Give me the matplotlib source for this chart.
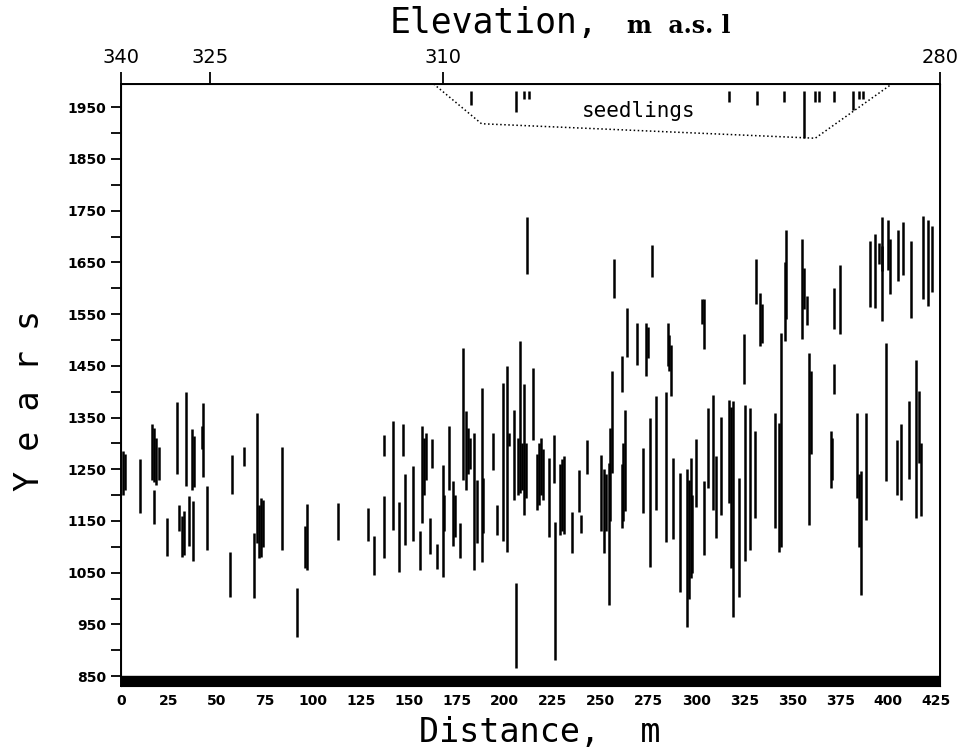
import matplotlib
matplotlib.use("Agg")
import matplotlib.pyplot as plt

# tree-age ranges along the transect: distance (m), oldest year, youngest year
dist = [1, 2, 10, 16, 17, 18, 17.2, 20, 24, 29, 30, 32, 33, 34, 35.3, 37, 38, 37.5,
        43, 42, 45, 57, 58, 64, 69.5, 71,
        72, 73, 74, 84, 92, 96, 97, 113, 129, 132, 137, 137.3, 142, 145, 147, 148,
        152, 156, 157, 158, 159, 161, 162, 165, 168, 168.5, 171, 173, 174, 177,
        178.5, 180, 181, 182, 184, 185.5, 188, 189, 194, 196, 199, 201.5, 202.5,
        205, 206, 207, 208, 209, 210, 211, 211.5, 215, 217, 218, 219, 220, 223,
        226, 226.5, 229, 230, 231, 235, 239, 240, 243, 250.5, 252, 253, 254.6, 255,
        256, 257, 261, 262, 263, 261.5, 264, 269, 272, 274, 275, 276, 277, 279,
        284, 285, 286, 287, 288, 291.5, 295, 296, 297, 298,
        300, 303, 304, 304, 306, 308.5, 310, 313, 317, 318, 319, 322, 325, 325.5,
        328, 330.5, 331, 333, 334, 341, 343, 344, 346, 347, 355, 356, 357.5, 359,
        360, 370, 371, 372, 372, 375,
        384, 385, 386, 388.5, 390.6, 393, 395, 396.6, 397, 398.7, 400, 401, 404.5,
        405, 406.7, 408, 411, 412, 414.5, 416, 417, 418, 421, 423]
year_from = [1200, 1210, 1165, 1230, 1225, 1220, 1145, 1230, 1083, 1240, 1130, 1080, 1085,
             1217, 1101, 1210, 1215, 1072, 1236, 1290, 1093, 1004, 1203, 1256, 1002, 1107,
             1078, 1080, 1100, 1094, 926, 1060, 1055, 1114, 1112, 1046, 1078, 1276, 1132,
             1052, 1275, 1104,
             1112, 1055, 1146, 1200, 1230, 1086, 1252, 1057, 1041, 1130, 1210, 1101, 1120,
             1078, 1230, 1210, 1240, 1250, 1055, 1107, 1070, 1126, 1249, 1123, 1112, 1091,
             1295, 1191, 865, 1200, 1204, 1210, 1162, 1195, 1627, 1307, 1172, 1180, 1200,
             1190, 1120,
             1223, 881, 1123, 1130, 1125, 1088, 1168, 1126, 1241, 1130, 1088, 1130, 988,
             1150, 1243, 1582, 1136, 1150, 1170, 1399, 1467, 1451, 1165, 1430, 1465, 1062,
             1622, 1172, 1110, 1450, 1440, 1391, 1115, 1013, 946, 1000, 1040, 1050,
             1178, 1530, 1482, 1084, 1214, 1172, 1117, 1162, 1185, 1060, 965, 1004, 1414,
             1072, 1094, 1156, 1570, 1488, 1495, 1136, 1091, 1100, 1498, 1540, 1501, 1560,
             1528, 1143, 1280, 1214, 1230, 1521, 1396, 1511,
             1194, 1100, 1007, 1152, 1564, 1562, 1646, 1537, 1634, 1227, 1636, 1588, 1201,
             1614, 1191, 1625, 1231, 1543, 1156, 1262, 1160, 1579, 1566, 1593]
year_to = [1285, 1280, 1270, 1338, 1330, 1310, 1209, 1294, 1156, 1380, 1180, 1160, 1170,
           1400, 1199, 1327, 1315, 1188, 1378, 1333, 1218, 1090, 1278, 1294, 1126, 1359,
           1180, 1194, 1190, 1294, 1021, 1140, 1183, 1185, 1175, 1121, 1198, 1316, 1343,
           1186, 1338, 1240,
           1256, 1130, 1333, 1310, 1320, 1156, 1309, 1106, 1259, 1200, 1333, 1227, 1200,
           1146, 1485, 1362, 1330, 1310, 1320, 1230, 1407, 1233, 1320, 1181, 1417, 1450,
           1320, 1365, 1030, 1310, 1498, 1300, 1414, 1300, 1737, 1446, 1280, 1300, 1311,
           1290, 1272,
           1317, 1149, 1260, 1270, 1275, 1168, 1249, 1162, 1307, 1278, 1250, 1240, 1262,
           1330, 1440, 1657, 1260, 1300, 1365, 1469, 1562, 1533, 1291, 1533, 1525, 1349,
           1683, 1391, 1400, 1533, 1510, 1490, 1272, 1243, 1250, 1230, 1272, 1200,
           1309, 1580, 1580, 1227, 1369, 1393, 1275, 1351, 1383, 1370, 1382, 1233, 1512,
           1375, 1369, 1324, 1657, 1590, 1570, 1359, 1340, 1514, 1650, 1713, 1696, 1640,
           1585, 1475, 1440, 1324, 1310, 1601, 1453, 1644,
           1359, 1240, 1246, 1359, 1692, 1705, 1688, 1682, 1737, 1495, 1731, 1695, 1307,
           1712, 1337, 1729, 1382, 1692, 1462, 1401, 1300, 1740, 1732, 1720]

# seedlings near the top
seed_dist = [182.5, 206, 210, 213, 317, 331.5, 345.5, 356, 362, 364, 371.6, 381.7, 384.6, 387]
seed_from = [1955, 1940, 1965, 1965, 1960, 1955, 1960, 1890, 1960, 1960, 1960, 1945, 1965, 1965]
seed_top = 1982
seed_box_x = [163, 188, 362, 402]
seed_box_y = [1995, 1918, 1890, 1995]

x_ticks = list(range(0, 426, 25))
y_major = list(range(850, 1951, 100))
y_minor = list(range(900, 1951, 100))
elev_pos = [0, 46.4, 168, 427]
elev_labels = ["340", "325", "310", "280"]

fig = plt.figure(figsize=(9.62, 7.56), dpi=100)
ax = fig.add_axes([0.1258, 0.0926, 0.977 - 0.1258, 0.889 - 0.0926])

ax.vlines(dist, year_from, year_to, colors="black", linewidth=1.8)
ax.vlines(seed_dist, seed_from, seed_top, colors="black", linewidth=1.8)
ax.plot(seed_box_x, seed_box_y, color="black", linestyle=":", linewidth=1.1)
ax.text(270, 1943, "seedlings", ha="center", va="center",
        fontsize=15, family="DejaVu Sans Mono")

# thick base strip
ax.axhspan(831, 850, color="black")

ax.set_xlim(0, 427)
ax.set_ylim(831, 1995)
ax.set_xticks(x_ticks)
ax.set_xticklabels([str(v) for v in x_ticks], fontsize=10, fontweight="bold")
ax.tick_params(axis="x", length=0, pad=6)
ax.set_yticks(y_major)
ax.set_yticklabels([str(v) for v in y_major], fontsize=10, fontweight="bold")
ax.set_yticks(y_minor, minor=True)
ax.tick_params(axis="y", which="both", length=7, width=1.3, direction="out")
for s in ax.spines.values():
    s.set_linewidth(1.4)

ax2 = ax.twiny()
ax2.set_xlim(0, 427)
ax2.set_xticks(elev_pos)
ax2.set_xticklabels(elev_labels, fontsize=14)
ax2.tick_params(axis="x", length=9, width=1.3, direction="out", pad=3)

fig.text(390 / 962, 1 - 33 / 756, "Elevation,", fontsize=25,
         family="DejaVu Sans Mono", ha="left", va="baseline")
fig.text(627 / 962, 1 - 33 / 756, "m  a.s. l", fontsize=17, family="DejaVu Serif",
         fontweight="bold", ha="left", va="baseline")
fig.text(540 / 962, 1 - 742 / 756, "Distance,  m", fontsize=24,
         family="DejaVu Sans Mono", ha="center", va="baseline")
fig.text(30 / 962, 1 - 400 / 756, "Y e a r s", fontsize=24, rotation=90,
         family="DejaVu Sans Mono", ha="center", va="center")

fig.savefig("out.png", dpi=100)
